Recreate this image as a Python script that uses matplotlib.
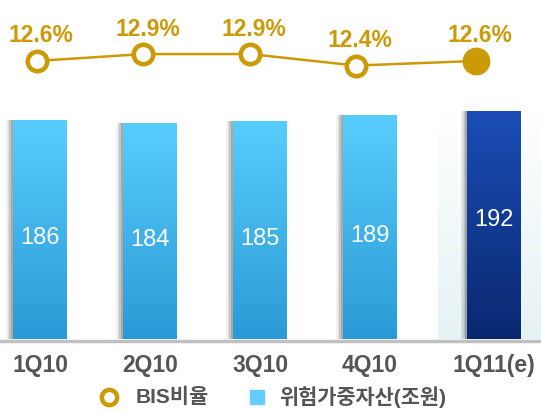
import matplotlib.pyplot as plt
import numpy as np
from matplotlib.colors import LinearSegmentedColormap

plt.rcParams['font.family'] = ['Liberation Sans', 'Noto Sans CJK KR', 'DejaVu Sans']

# data
quarters = ['1Q10', '2Q10', '3Q10', '4Q10', '1Q11(e)']
rwa = [186, 184, 185, 189, 192]          # 위험가중자산(조원)
bis = [12.6, 12.9, 12.9, 12.4, 12.6]     # BIS비율 (%)
legend_labels = ['BIS비율', '위험가중자산(조원)']

# layout
bar_x = np.array([0, 1, 2, 3, 4.13])
line_x = np.array([-0.03, 0.94, 1.91, 2.87, 3.96])
bar_w = 0.49
base = 40
gold = '#CC9A06'

fig = plt.figure(figsize=(5.41, 4.12), dpi=100)
ax = fig.add_axes([0, 0, 1, 1])
ax.axis('off')

light = LinearSegmentedColormap.from_list('l', ['#2A9AD6', '#58CDFD'])
dark = LinearSegmentedColormap.from_list('d', ['#0A2870', '#1A4DB5'])
grad = np.linspace(0, 1, 256).reshape(-1, 1)

# light panel behind the estimate
panel = np.ones((256, 1, 4))
panel[:, 0, 0] = 0.90
panel[:, 0, 1] = 0.95
panel[:, 0, 2] = 0.955
panel[:, 0, 3] = np.linspace(1, 0, 256)
ax.imshow(panel, extent=(3.62, 4.555, base, base + 152), origin='lower',
          aspect='auto', zorder=0)

for i, (x, v) in enumerate(zip(bar_x, rwa)):
    # soft shadow on the left
    for k, a in enumerate([0.08, 0.12, 0.18, 0.26]):
        off = 0.06 - k * 0.013
        ax.bar(x - off, v - base, bar_w, bottom=base,
               color='#555555', alpha=a, linewidth=0, zorder=1)
    cmap = dark if i == len(rwa) - 1 else light
    ax.imshow(grad, cmap=cmap, extent=(x - bar_w / 2, x + bar_w / 2, base, v),
              origin='lower', aspect='auto', zorder=2)
    frac = 0.52 if i == len(rwa) - 1 else 0.46
    ax.text(x, base + (v - base) * frac, str(v), color='white', fontsize=17,
            ha='center', va='center', zorder=3)
    ax.text(x, base - 17.5, quarters[i], color='#555555', fontsize=16.5,
            fontweight='bold', ha='center', va='center', zorder=3)

ax.axhline(base - 1.3, color='#C0C0C0', lw=2.5, zorder=2.5)
ax.set_xlim(-0.364, 4.555)
ax.set_ylim(-8.67, 266)

# BIS line
ax2 = ax.twinx()
ax2.set_ylim(-2.66, 15.25)
ax2.axis('off')
ax2.plot(line_x, bis, color=gold, lw=1.8, zorder=2)
ax2.plot(line_x[:-1], bis[:-1], 'o', ms=14, mfc='white', mec=gold, mew=3.3,
         zorder=3)
ax2.plot(line_x[-1:], bis[-1:], 'o', ms=19, mfc=gold, mec=gold, zorder=3)
for x, v in zip(line_x, bis):
    ax2.annotate(f'{v}%', (x, v), xytext=(4, 25), textcoords='offset pixels',
                 color=gold, fontsize=16.5, fontweight='bold',
                 ha='center', va='center')

# legend
leg_y = 1.3
ax.plot([0.627], [leg_y], 'o', ms=11, mfc='white', mec=gold, mew=3.2, clip_on=False)
ax.text(0.87, leg_y, legend_labels[0], color='#555555', fontsize=15,
        fontweight='bold', va='center', ha='left')
ax.plot([1.97], [leg_y], 's', ms=9.5, color='#66CCFF', clip_on=False)
ax.text(2.17, leg_y, legend_labels[1], color='#555555', fontsize=15,
        fontweight='bold', va='center', ha='left')

plt.savefig('out.png', dpi=100)
